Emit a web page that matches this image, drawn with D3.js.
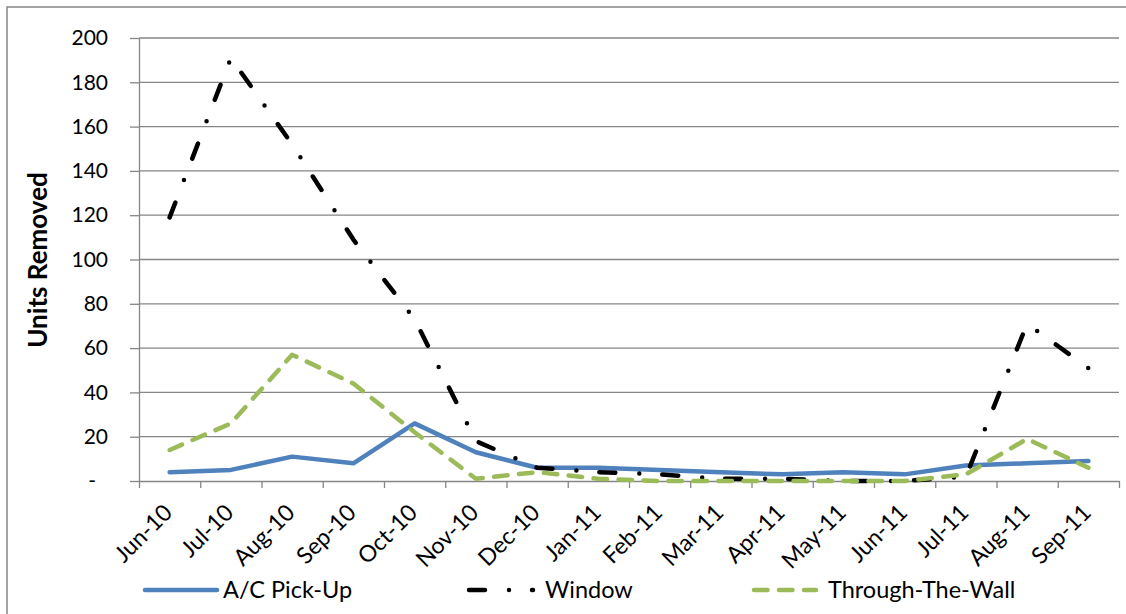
<!DOCTYPE html>
<html>
<head>
<meta charset="utf-8">
<script src="https://cdn.jsdelivr.net/npm/d3@7"></script>
<style>
  html, body { margin: 0; padding: 0; background: #fff; }
  svg { display: block; font-family: "Lato", "Open Sans", sans-serif; }
</style>
</head>
<body>
<svg id="chart" width="1126" height="614"></svg>
<script>
// Monthly units removed, June 2010 – September 2011
const categories = ["Jun-10","Jul-10","Aug-10","Sep-10","Oct-10","Nov-10","Dec-10","Jan-11",
                    "Feb-11","Mar-11","Apr-11","May-11","Jun-11","Jul-11","Aug-11","Sep-11"];
const acPickUp       = [4, 5, 11, 8, 26, 13, 6, 6, 5, 4, 3, 4, 3, 7, 8, 9];
const windowUnits    = [119, 191, 152, 109, 73, 18, 6, 4, 3, 1, 1, 0, 0, 2, 71, 51];
const throughTheWall = [14, 26, 57, 44, 22, 1, 4, 1, 0, 0, 0, 0, 0, 3, 19, 6];
const yTicks = [0, 20, 40, 60, 80, 100, 120, 140, 160, 180, 200];
const seriesNames = ["A/C Pick-Up", "Window", "Through-The-Wall"];

const svg = d3.select("#chart");
const plot = { left: 139, right: 1119, top: 38, bottom: 481 };
const gridColor = "#868686";

// chart frame
svg.append("rect")
  .attr("x", 7).attr("y", 7).attr("width", 1130).attr("height", 620)
  .attr("fill", "none").attr("stroke", gridColor).attr("stroke-width", 1.5);

const x = d3.scaleBand().domain(categories).range([plot.left, plot.right]).padding(0);
const xBound = d3.scaleLinear().domain([0, categories.length]).range([plot.left, plot.right]);
const y = d3.scaleLinear().domain([0, 200]).range([plot.bottom, plot.top]);
const cx = c => x(c) + x.bandwidth() / 2;

// horizontal gridlines
svg.append("g")
  .selectAll("line")
  .data(yTicks.filter(d => d > 0))
  .join("line")
  .attr("x1", plot.left).attr("x2", plot.right)
  .attr("y1", d => y(d)).attr("y2", d => y(d))
  .attr("stroke", gridColor).attr("stroke-width", 1.3);

// y axis
const yAxis = svg.append("g")
  .attr("transform", `translate(${plot.left},0)`)
  .call(d3.axisLeft(y).tickValues(yTicks).tickSizeInner(9).tickSizeOuter(0).tickPadding(22)
        .tickFormat(d => d === 0 ? "-" : d));
yAxis.selectAll("path, line").attr("stroke", gridColor).attr("stroke-width", 1.3);
yAxis.selectAll("text")
  .attr("font-family", "Lato, sans-serif")
  .attr("font-size", 21).attr("fill", "#000")
  .attr("dx", d => d === 0 ? -12 : 0);

// x axis: tick marks at category boundaries
const xTicks = svg.append("g")
  .attr("transform", `translate(0,${plot.bottom})`)
  .call(d3.axisBottom(xBound).tickValues(d3.range(categories.length + 1))
        .tickSizeInner(7).tickSizeOuter(0).tickFormat(""));
xTicks.selectAll("path, line").attr("stroke", gridColor).attr("stroke-width", 1.3);

// x axis: rotated category labels
const xLabels = svg.append("g")
  .attr("transform", `translate(0,${plot.bottom})`)
  .call(d3.axisBottom(x).tickSize(0));
xLabels.select("path").remove();
xLabels.selectAll("text")
  .attr("font-family", "Lato, sans-serif")
  .attr("font-size", 23).attr("fill", "#000")
  .attr("text-anchor", "end")
  .attr("y", 0).attr("dy", 0)
  .attr("transform", "translate(4,33) rotate(-45)");

// y axis title
svg.append("text")
  .attr("transform", "translate(47,260) rotate(-90)")
  .attr("text-anchor", "middle")
  .attr("font-family", "Lato, sans-serif")
  .attr("font-weight", "bold").attr("font-size", 26)
  .text("Units Removed");

// series styles
const styles = [
  { color: "#4F81BD", dash: null },
  { color: "#000000", dash: "16,24,0,23" },
  { color: "#9BBB59", dash: "13.5,11.5" }
];
const seriesValues = [acPickUp, windowUnits, throughTheWall];

const line = d3.line().x(d => cx(d.c)).y(d => y(d.v));

seriesValues.forEach((vals, i) => {
  const pts = categories.map((c, j) => ({ c, v: vals[j] }));
  svg.append("path")
    .datum(pts)
    .attr("d", line)
    .attr("fill", "none")
    .attr("stroke", styles[i].color)
    .attr("stroke-width", 4.5)
    .attr("stroke-linecap", "round")
    .attr("stroke-linejoin", "round")
    .attr("stroke-dasharray", styles[i].dash);
});

// legend
const legendItems = [
  { x1: 145, x2: 217, tx: 223 },
  { x1: 469, x2: 533, tx: 545 },
  { x1: 754, x2: 816, tx: 828 }
];
const legend = svg.append("g");
legendItems.forEach((it, i) => {
  legend.append("line")
    .attr("x1", it.x1).attr("x2", it.x2).attr("y1", 590).attr("y2", 590)
    .attr("stroke", styles[i].color).attr("stroke-width", 4.5)
    .attr("stroke-linecap", "round")
    .attr("stroke-dasharray", styles[i].dash);
  legend.append("text")
    .attr("x", it.tx).attr("y", 598)
    .attr("font-family", "Lato, sans-serif")
    .attr("font-size", 23.5).attr("fill", "#000")
    .text(seriesNames[i]);
});
</script>
</body>
</html>
